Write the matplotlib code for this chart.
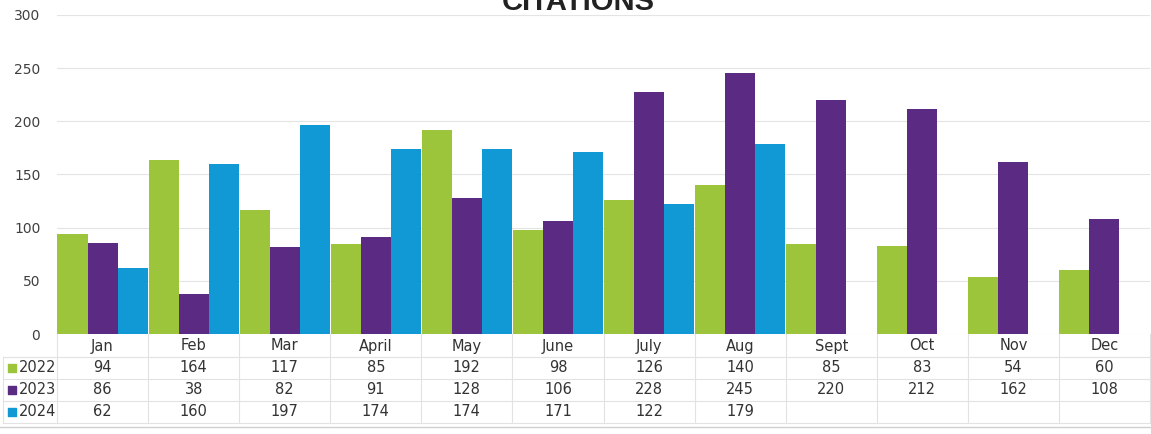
import matplotlib
matplotlib.use('Agg')
import matplotlib.pyplot as plt
import numpy as np

plt.rcParams['font.family'] = 'DejaVu Sans'

# data
months = ['Jan', 'Feb', 'Mar', 'April', 'May', 'June', 'July', 'Aug', 'Sept', 'Oct', 'Nov', 'Dec']
years = ['2022', '2023', '2024']
c2022 = [94, 164, 117, 85, 192, 98, 126, 140, 85, 83, 54, 60]
c2023 = [86, 38, 82, 91, 128, 106, 228, 245, 220, 212, 162, 108]
c2024 = [62, 160, 197, 174, 174, 171, 122, 179, None, None, None, None]
series = [c2022, c2023, c2024]
colors = ['#9cc53c', '#5b2b84', '#1199d6']

W, H = 1151, 434
fig = plt.figure(figsize=(W / 100, H / 100), dpi=100)

left, right = 57 / W, 1150 / W
ax = fig.add_axes([left, 1 - 334 / H, right - left, (334 - 15) / H])

x = np.arange(len(months))
bw = 0.33
for i, (vals, col) in enumerate(zip(series, colors)):
    xs = [xi for xi, v in zip(x, vals) if v is not None]
    ys = [v for v in vals if v is not None]
    ax.bar(np.array(xs) + (i - 1) * bw, ys, width=bw, color=col, zorder=2)

ax.set_xlim(-0.5, 11.5)
ax.set_ylim(0, 300)
ax.set_yticks(range(0, 301, 50))
ax.set_xticks([])
ax.tick_params(axis='y', length=0, pad=12, labelsize=10, labelcolor='#404040')
ax.grid(axis='y', color='#e4e4e4', lw=0.8, zorder=0)
for s in ax.spines.values():
    s.set_visible(False)

# title, mostly cut off at the top edge
fig.text(578 / W, 1 - 10 / H, 'CITATIONS', ha='center', va='baseline',
         fontsize=21, fontweight='bold', color='#222222', family='Liberation Sans')

# data table below the bars (y axis in pixel rows, top-down)
tx = fig.add_axes([left, 0, right - left, 100 / H])
tx.set_xlim(-0.5, 11.5)
tx.set_ylim(434, 334)
tx.axis('off')

def px2x(px):
    return (px - 57) / ((1150 - 57) / 12) - 0.5

line_col = '#e2e2e2'
row_y = [346, 368, 390, 412]
edges = [357, 379, 401, 423]
for e in edges:
    tx.plot([px2x(3), 11.5], [e, e], color=line_col, lw=0.8, clip_on=False)
for k in range(13):
    tx.plot([k - 0.5, k - 0.5], [334, 423], color=line_col, lw=0.8, clip_on=False)
tx.plot([px2x(3), px2x(3)], [357, 423], color=line_col, lw=0.8, clip_on=False)
tx.plot([px2x(0), px2x(1151)], [427, 427], color='#cfcfcf', lw=1.0, clip_on=False)

for j, m in enumerate(months):
    tx.text(j, row_y[0], m, ha='center', va='center', fontsize=10.5, color='#333333')

for i, (vals, col, yr) in enumerate(zip(series, colors, years)):
    y = row_y[i + 1]
    tx.scatter([px2x(12)], [y], marker='s', s=30, color=col, clip_on=False)
    tx.text(px2x(19), y, yr, ha='left', va='center', fontsize=10.5, color='#333333', clip_on=False)
    for j, v in enumerate(vals):
        if v is not None:
            tx.text(j, y, str(v), ha='center', va='center', fontsize=10.5, color='#333333')

fig.savefig('out.png', dpi=100)
